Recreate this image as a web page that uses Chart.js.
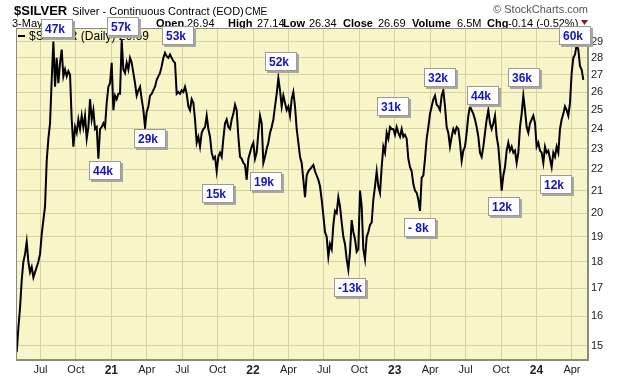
<!DOCTYPE html>
<html>
<head>
<meta charset="utf-8">
<script src="https://cdn.jsdelivr.net/npm/chart.js@4/dist/chart.umd.min.js"></script>
<style>
  html, body { margin: 0; padding: 0; background: #fff; }
  canvas { display: block; }
</style>
</head>
<body>
<canvas id="chart" width="620" height="376"></canvas>
<script>
// $SILVER daily close, one sample about every 3 trading days, May 2020 - May 2024
const prices = [
  14.8, 15.6, 16.3, 17.3, 18.0, 18.3, 18.8, 18.0, 17.6, 17.8,
  17.4, 17.6, 17.8, 18.0, 18.3, 19.1, 19.7, 20.3, 22.4, 23.5,
  24.3, 26.7, 29.0, 26.3, 28.0, 26.5, 27.7, 28.5, 26.9, 27.3,
  26.9, 27.2, 27.0, 24.5, 23.1, 24.1, 23.8, 24.5, 24.0, 24.7,
  24.1, 24.7, 23.5, 24.1, 25.6, 24.5, 25.0, 24.0, 24.1, 22.5,
  24.0, 24.1, 24.3, 24.1, 25.4, 26.3, 26.5, 27.7, 25.0, 25.8,
  25.6, 25.9, 25.9, 29.1, 27.3, 27.1, 27.7, 27.3, 28.0, 27.7,
  27.1, 26.5, 25.8, 26.1, 26.3, 25.6, 25.0, 24.1, 24.9, 25.2,
  25.8, 25.9, 26.1, 26.3, 26.7, 26.9, 27.1, 27.5, 28.0, 28.3,
  28.1, 28.0, 28.2, 28.0, 27.8, 27.7, 25.9, 26.0, 25.9, 26.1,
  26.0, 26.3, 25.9, 25.2, 25.0, 25.6, 25.4, 24.5, 23.3, 23.6,
  23.1, 23.8, 24.0, 24.1, 24.7, 24.0, 23.6, 22.8, 22.5, 22.6,
  21.9, 22.6, 22.8, 22.6, 23.5, 24.3, 24.5, 24.1, 24.0, 24.5,
  24.8, 25.3, 25.0, 23.6, 22.6, 22.5, 22.3, 22.2, 21.5, 22.5,
  22.8, 23.1, 23.3, 22.5, 22.8, 23.8, 24.7, 24.3, 22.3, 22.6,
  23.0, 23.3, 23.8, 24.1, 24.5, 25.2, 25.9, 26.8, 26.1, 25.2,
  25.8, 25.4, 25.0, 25.2, 24.7, 25.6, 26.0, 25.2, 24.0, 23.3,
  22.6, 22.3, 21.5, 20.7, 21.7, 21.9, 22.0, 22.1, 22.2, 21.9,
  21.7, 21.5, 21.2, 20.6, 19.9, 19.2, 19.0, 18.2, 18.7, 18.5,
  19.5, 20.1, 20.0, 20.7, 20.3, 19.6, 19.0, 18.7, 18.1, 17.7,
  18.4, 19.7, 19.2, 18.9, 18.4, 18.5, 21.0, 20.3, 18.5, 18.1,
  19.0, 19.2, 19.5, 19.6, 20.6, 21.2, 21.9, 21.2, 20.9, 22.1,
  23.1, 22.8, 23.8, 23.5, 24.1, 24.0, 24.0, 23.7, 24.1, 23.8,
  23.6, 24.0, 23.6, 23.7, 23.5, 22.5, 22.1, 21.9, 21.3, 21.0,
  20.9, 20.6, 20.1, 21.6, 21.7, 22.5, 23.5, 24.1, 24.8, 25.2,
  25.6, 25.8, 25.3, 25.2, 25.0, 25.8, 26.1, 25.2, 24.1, 23.8,
  23.1, 23.6, 24.0, 23.8, 24.1, 24.0, 23.3, 22.4, 22.9, 23.1,
  23.8, 24.7, 25.2, 25.0, 24.8, 24.5, 24.1, 23.6, 22.8, 22.6,
  23.1, 23.8, 24.5, 25.0, 24.3, 24.0, 24.3, 24.7, 23.6, 23.1,
  22.1, 21.0, 21.7, 22.1, 22.9, 23.3, 22.9, 23.1, 22.8, 22.9,
  22.3, 22.8, 24.1, 24.8, 25.8, 25.0, 24.1, 23.8, 24.3, 24.5,
  24.7, 24.3, 23.1, 23.3, 22.9, 22.8, 22.3, 23.1, 22.8, 22.9,
  22.5, 22.1, 22.8, 22.6, 23.1, 22.8, 24.0, 24.5, 24.8, 25.2,
  25.0, 24.7, 25.4, 27.1, 28.0, 28.2, 28.8, 28.5, 27.5, 27.3, 26.7
];
// time axis in months since Jan 2020
const startMonth = 3.99;
const stepMonth = 0.1411;

const monthTicks = [6, 9, 12, 15, 18, 21, 24, 27, 30, 33, 36, 39, 42, 45, 48, 51];
const monthLabels = ['Jul', 'Oct', '21', 'Apr', 'Jul', 'Oct', '22', 'Apr', 'Jul', 'Oct', '23', 'Apr', 'Jul', 'Oct', '24', 'Apr'];
const priceTicks = [15, 16, 17, 18, 19, 20, 21, 22, 23, 24, 25, 26, 27, 28, 29];

// net position callouts (text, month, price)
const noteText  = ['47k', '57k', '53k', '29k', '44k', '15k', '19k', '52k', '31k', '-13k', '- 8k', '32k', '44k', '36k', '12k', '12k', '60k'];
const noteMonth = [7.40, 13.00, 17.61, 15.28, 11.47, 21.03, 25.10, 26.37, 35.81, 32.21, 38.10, 39.79, 43.47, 46.90, 45.21, 49.61, 51.26];
const notePrice = [29.87, 29.94, 29.36, 23.51, 21.92, 20.87, 21.42, 27.78, 25.20, 17.04, 19.39, 26.84, 25.78, 26.84, 20.29, 21.28, 29.36];

const FONT = 'Liberation Sans, Arial, sans-serif';
const yearLabels = new Set(['21', '22', '23', '24']);

const points = prices.map((p, i) => ({ x: startMonth + i * stepMonth, y: p }));

const chartDecor = {
  id: 'chartDecor',
  beforeDraw(chart) {
    const ctx = chart.ctx;
    const a = chart.chartArea;
    ctx.save();
    ctx.fillStyle = '#ffffff';
    ctx.fillRect(0, 0, chart.width, chart.height);
    ctx.fillStyle = '#f8f5c8';
    ctx.fillRect(a.left, a.top, a.right - a.left, a.bottom - a.top);

    // title line
    ctx.fillStyle = '#000';
    ctx.textBaseline = 'alphabetic';
    ctx.font = 'bold 13px ' + FONT;
    ctx.fillText('$SILVER', 14, 15);
    ctx.font = '11px ' + FONT;
    ctx.fillText('Silver - Continuous Contract (EOD)', 72, 15);
    ctx.font = '10px ' + FONT;
    ctx.fillText('CME', 245, 15);

    ctx.fillStyle = '#555';
    ctx.font = '11px ' + FONT;
    ctx.textAlign = 'right';
    ctx.fillText('\u00A9 StockCharts.com', 588, 13);
    ctx.textAlign = 'left';

    // quote line
    ctx.fillStyle = '#000';
    ctx.font = '11px ' + FONT;
    ctx.fillText('3-May', 12, 27);
    const quote = [
      ['Open', 156, true], ['26.94', 187, false], ['High', 228, true], ['27.14', 257, false],
      ['Low', 283, true], ['26.34', 309, false], ['Close', 343, true], ['26.69', 378, false],
      ['Volume', 412, true], ['6.5M', 457, false], ['Chg', 487, true], ['-0.14 (-0.52%)', 508, false]
    ];
    quote.forEach(([t, x, b]) => {
      ctx.font = (b ? 'bold 11px ' : '11px ') + FONT;
      ctx.fillText(t, x, 27);
    });
    ctx.fillStyle = '#8b1a2a';
    ctx.beginPath();
    ctx.moveTo(581, 20);
    ctx.lineTo(588, 20);
    ctx.lineTo(584.5, 25);
    ctx.closePath();
    ctx.fill();
    ctx.restore();
  },
  afterDatasetsDraw(chart) {
    const ctx = chart.ctx;
    const a = chart.chartArea;
    ctx.save();
    ctx.strokeStyle = '#8a8a80';
    ctx.lineWidth = 1;
    ctx.strokeRect(a.left + 0.5, a.top + 0.5, a.right - a.left - 1, a.bottom - a.top - 1);

    // in-plot legend
    ctx.strokeStyle = '#000';
    ctx.lineWidth = 2;
    ctx.beginPath();
    ctx.moveTo(18, 36);
    ctx.lineTo(25, 36);
    ctx.stroke();
    ctx.fillStyle = '#000';
    ctx.font = '12px ' + FONT;
    ctx.fillText('$SILVER (Daily) 26.69', 29, 40);
    ctx.restore();
  },
  afterDraw(chart) {
    const ctx = chart.ctx;
    const xs = chart.scales.x, ys = chart.scales.y;
    ctx.save();
    noteText.forEach((t, i) => {
      const cx = xs.getPixelForValue(noteMonth[i]);
      const cy = ys.getPixelForValue(notePrice[i]);
      const w = 32, h = 19;
      const x0 = Math.round(cx - w / 2), y0 = Math.round(cy - h / 2);
      ctx.fillStyle = '#a8a8a0';
      ctx.fillRect(x0 + 2, y0 + 2, w, h);
      ctx.fillStyle = '#ffffff';
      ctx.fillRect(x0, y0, w, h);
      ctx.strokeStyle = '#9a9a9a';
      ctx.lineWidth = 1;
      ctx.strokeRect(x0 + 0.5, y0 + 0.5, w - 1, h - 1);
      ctx.fillStyle = '#1414c0';
      ctx.font = 'bold 12px ' + FONT;
      ctx.textBaseline = 'middle';
      ctx.fillText(t, x0 + 4, y0 + h / 2 + 1);
    });
    ctx.restore();
  }
};

new Chart(document.getElementById('chart'), {
  type: 'line',
  data: {
    datasets: [{
      data: points,
      borderColor: '#000000',
      borderWidth: 2,
      pointRadius: 0,
      tension: 0,
      fill: false
    }]
  },
  options: {
    responsive: false,
    animation: false,
    devicePixelRatio: 1,
    layout: { padding: { left: 16, top: 28, right: 0, bottom: 0 } },
    plugins: { legend: { display: false }, tooltip: { enabled: false } },
    scales: {
      x: {
        type: 'linear',
        min: 3.93,
        max: 52.36,
        afterBuildTicks: axis => { axis.ticks = monthTicks.map(v => ({ value: v })); },
        afterFit: axis => { axis.height = 16; },
        grid: { color: '#d6d2a2', drawTicks: false },
        border: { display: true, color: '#8a8a80' },
        ticks: {
          padding: 3,
          color: '#222',
          maxRotation: 0,
          autoSkip: false,
          font: c => {
            const isYear = yearLabels.has(monthLabels[monthTicks.indexOf(c.tick ? c.tick.value : -1)]);
            return { family: FONT, size: isYear ? 12 : 11, weight: isYear ? 'bold' : 'normal' };
          },
          callback: v => monthLabels[monthTicks.indexOf(v)]
        }
      },
      y: {
        type: 'logarithmic',
        position: 'right',
        min: 14.55,
        max: 29.87,
        afterBuildTicks: axis => { axis.ticks = priceTicks.map(v => ({ value: v })); },
        afterFit: axis => { axis.width = 32; },
        grid: { color: '#d6d2a2', drawTicks: false },
        border: { display: true, color: '#8a8a80' },
        ticks: {
          padding: 3,
          color: '#222',
          autoSkip: false,
          font: { family: FONT, size: 11 },
          callback: v => String(v)
        }
      }
    }
  },
  plugins: [chartDecor]
});
</script>
</body>
</html>
